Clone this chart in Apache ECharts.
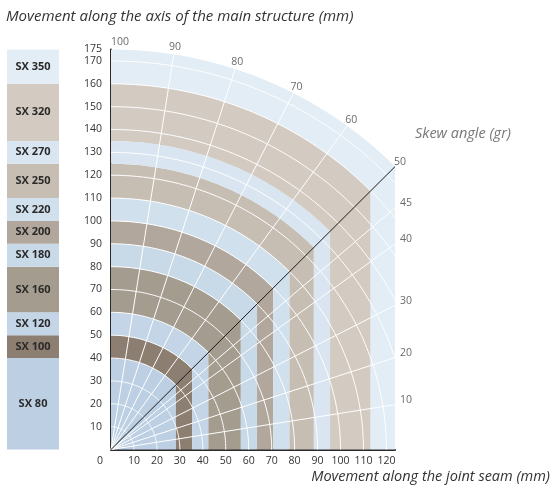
<!DOCTYPE html>
<html><head><meta charset="utf-8">
<script src="https://cdn.jsdelivr.net/npm/echarts@6/dist/echarts.min.js"></script>
<style>html,body{margin:0;padding:0;background:#fff}#c{width:558px;height:486px}</style>
</head><body><div id="c"></div>
<script>
// ---- data ----
const bandNames = ['SX 80','SX 100','SX 120','SX 160','SX 180','SX 200','SX 220','SX 250','SX 270','SX 320','SX 350'];
const bandFrom  = [0, 40, 50, 60, 80, 90, 100, 110, 125, 135, 160];
const bandTo    = [40, 50, 60, 80, 90, 100, 110, 125, 135, 160, 175];
const arcRadii  = [10,20,30,40,50,60,70,80,90,100,110,120,130,140,150,160,170];
const skewAbove = [60, 70, 80, 90];        // gradians, white rays above the 50 gr line
const skewBelow = [10, 20, 30, 40, 45];    // gradians, white rays below the 50 gr line
const skewLabels = [100, 90, 80, 70, 60, 50, 45, 40, 30, 20, 10];
const skewDiagonal = 50;

// ---- styles ----
const palette = ['#bccfe3','#8c7e70','#c3d5e6','#a59c90','#c8d9e8','#b1a79c','#d1e0ed','#c7beb3','#d9e6f1','#d3cbc1','#e2edf5'];
const FONT = '"Open Sans", "Noto Sans", sans-serif';

const R = bandTo[bandTo.length - 1];
const XMAX = R * Math.SQRT1_2;
const gr = g => g * Math.PI / 200;

function bandRender(params, api) {
  const i = api.value(0);
  const r0 = bandFrom[i], r1 = bandTo[i], c = Math.SQRT1_2;
  const pts = [api.coord([r0 * c, 0]), api.coord([r1 * c, 0])];
  const n = 90;
  for (let k = 0; k <= n; k++) {
    const a = Math.PI / 4 + (Math.PI / 4) * k / n;
    pts.push(api.coord([r1 * Math.cos(a), r1 * Math.sin(a)]));
  }
  for (let k = n; k >= 0; k--) {
    const a = Math.PI / 4 + (Math.PI / 4) * k / n;
    pts.push(api.coord([r0 * Math.cos(a), r0 * Math.sin(a)]));
  }
  return { type: 'polygon', shape: { points: pts }, style: { fill: palette[i] } };
}

function gridRender(params, api) {
  const ch = [];
  const o = api.coord([0, 0]);
  arcRadii.forEach(r => {
    const aMin = r <= XMAX ? 0 : Math.acos(XMAX / r);
    const pts = [];
    const n = 120;
    for (let k = 0; k <= n; k++) {
      const a = aMin + (Math.PI / 2 - aMin) * k / n;
      pts.push(api.coord([r * Math.cos(a), r * Math.sin(a)]));
    }
    ch.push({ type: 'polyline', shape: { points: pts }, style: { stroke: '#ffffff', lineWidth: 1, fill: null } });
  });
  skewAbove.forEach(g => {
    const a = gr(g);
    const p = api.coord([R * Math.cos(a), R * Math.sin(a)]);
    ch.push({ type: 'line', shape: { x1: o[0], y1: o[1], x2: p[0], y2: p[1] }, style: { stroke: '#ffffff', lineWidth: 1 } });
  });
  skewBelow.forEach(g => {
    const a = gr(g);
    const p = api.coord([XMAX, XMAX * Math.tan(a)]);
    ch.push({ type: 'line', shape: { x1: o[0], y1: o[1], x2: p[0], y2: p[1] }, style: { stroke: '#ffffff', lineWidth: 1 } });
  });
  // diagonal 50 gr
  const d = gr(skewDiagonal);
  const pd = api.coord([R * Math.cos(d), R * Math.sin(d)]);
  ch.push({ type: 'line', shape: { x1: o[0], y1: o[1], x2: pd[0], y2: pd[1] }, style: { stroke: '#1a1a1a', lineWidth: 1 } });
  // labels
  skewLabels.forEach(g => {
    const a = gr(g);
    let x, y, align = 'center';
    if (g >= skewDiagonal) {
      const p = api.coord([R * Math.cos(a), R * Math.sin(a)]);
      x = p[0] + 7 * Math.cos(a); y = p[1] - 7 * Math.sin(a);
      if (g === 100) align = 'left';
    } else {
      const p = api.coord([XMAX, XMAX * Math.tan(a)]);
      x = p[0] + 5; y = p[1] - 4.5; align = 'left';
    }
    ch.push({ type: 'text', x: x, y: y, style: { text: String(g), fill: '#6b6b6b', fontSize: 10.5, fontFamily: FONT, align: align, verticalAlign: 'middle' } });
  });
  return { type: 'group', children: ch };
}

function legendRender(params, api) {
  const i = api.value(0);
  const p0 = api.coord([0, bandTo[i]]);
  const p1 = api.coord([1, bandFrom[i]]);
  return {
    type: 'group',
    children: [
      { type: 'rect', shape: { x: p0[0], y: p0[1], width: p1[0] - p0[0], height: p1[1] - p0[1] }, style: { fill: palette[i] } },
      { type: 'text', x: (p0[0] + p1[0]) / 2, y: (p0[1] + p1[1]) / 2, style: { text: bandNames[i], fill: '#2a2a2a', fontSize: 11, fontWeight: 'bold', fontFamily: FONT, align: 'center', verticalAlign: 'middle' } }
    ]
  };
}

const chart = echarts.init(document.getElementById('c'), null, { renderer: 'canvas' });
const idx = bandNames.map((_, i) => [i]);
chart.setOption({
  animation: false,
  backgroundColor: '#ffffff',
  grid: [
    { left: 111, top: 49.5, width: XMAX * 2.295, height: 400, outerBoundsMode: 'none', containLabel: false },
    { left: 7, top: 49.5, width: 52, height: 400, outerBoundsMode: 'none', containLabel: false }
  ],
  xAxis: [
    { gridIndex: 0, type: 'value', min: 0, max: XMAX, interval: 10,
      axisLine: { show: true, onZero: false, lineStyle: { color: '#2b2b2b', width: 2 } },
      axisTick: { show: false }, splitLine: { show: false },
      axisLabel: { margin: 6, color: '#333', fontSize: 10.5, fontFamily: FONT, showMaxLabel: false,
        formatter: v => (v > 0 && Math.abs(v % 10) < 1e-6) ? String(v) : '' } },
    { gridIndex: 1, type: 'value', min: 0, max: 1, show: false }
  ],
  yAxis: [
    { gridIndex: 0, type: 'value', min: 0, max: R, interval: 5,
      axisLine: { show: true, onZero: false, lineStyle: { color: '#2b2b2b', width: 2 } },
      axisTick: { show: false }, splitLine: { show: false },
      axisLabel: { margin: 9, color: '#333', fontSize: 10.5, fontFamily: FONT,
        formatter: v => (v > 0 && (v % 10 === 0 || v === R)) ? String(v) : '' } },
    { gridIndex: 1, type: 'value', min: 0, max: R, show: false }
  ],
  graphic: [
    { type: 'text', x: 6, y: 17, style: { text: 'Movement along the axis of the main structure (mm)', fill: '#333', fontSize: 15, fontStyle: 'italic', fontFamily: FONT, align: 'left', verticalAlign: 'middle' } },
    { type: 'text', x: 550, y: 477, style: { text: 'Movement along the joint seam (mm)', fill: '#333', fontSize: 14.5, fontStyle: 'italic', fontFamily: FONT, align: 'right', verticalAlign: 'middle' } },
    { type: 'text', x: 415, y: 134, style: { text: 'Skew angle (gr)', fill: '#777', fontSize: 14.5, fontStyle: 'italic', fontFamily: FONT, align: 'left', verticalAlign: 'middle' } },
    { type: 'text', x: 100, y: 461, style: { text: '0', fill: '#333', fontSize: 10.5, fontFamily: FONT, align: 'center', verticalAlign: 'middle' } }
  ],
  series: [
    { type: 'custom', xAxisIndex: 0, yAxisIndex: 0, renderItem: bandRender, data: idx, clip: false, z: 1, silent: true },
    { type: 'custom', xAxisIndex: 0, yAxisIndex: 0, renderItem: gridRender, data: [[0]], clip: false, z: 2, silent: true },
    { type: 'custom', xAxisIndex: 1, yAxisIndex: 1, renderItem: legendRender, data: idx, clip: false, z: 1, silent: true }
  ]
});
</script>
</body></html>
